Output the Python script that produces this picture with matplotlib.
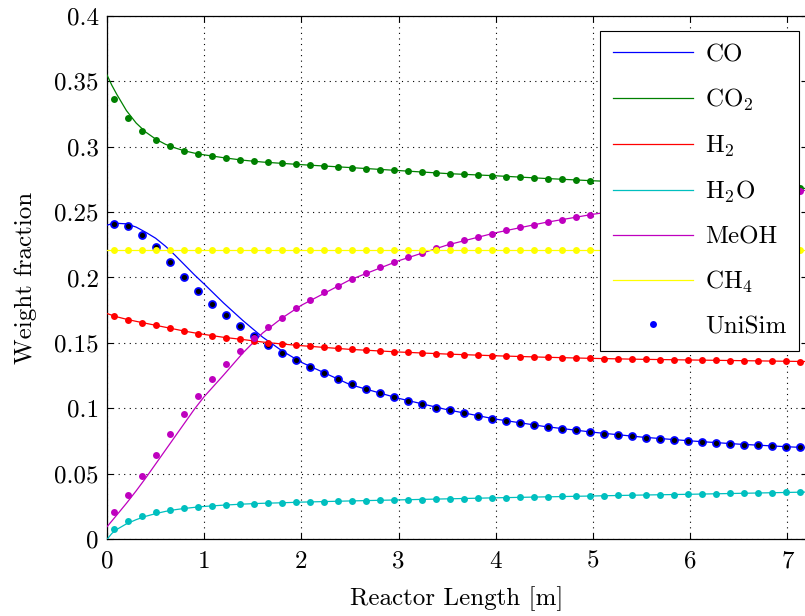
import numpy as np
import matplotlib
matplotlib.use('Agg')
import matplotlib.pyplot as plt
from matplotlib.lines import Line2D
from matplotlib.ticker import FuncFormatter

# ---------------------------------------------------------------------------
# Data: model profiles (lines) and UniSim reference points (dots)
# ---------------------------------------------------------------------------
x_model = [0, 0.05, 0.1, 0.2, 0.3, 0.4, 0.5, 0.6, 0.7, 0.8, 0.9, 1.0, 1.2, 1.4,
           1.6, 1.8, 2.0, 2.5, 3.0, 3.5, 4.0, 4.5, 5.0, 5.5, 6.0, 6.5, 7.0, 7.2]

co_model = [0.2400, 0.2410, 0.2414, 0.2410, 0.2385, 0.2345, 0.2300, 0.2240, 0.2170,
            0.2095, 0.2020, 0.1950, 0.1805, 0.1670, 0.1545, 0.1440, 0.1352, 0.1182,
            0.1077, 0.0990, 0.0918, 0.0862, 0.0818, 0.0781, 0.0752, 0.0727, 0.0707, 0.0700]
co2_model = [0.3547, 0.3468, 0.3400, 0.3275, 0.3180, 0.3110, 0.3058, 0.3018, 0.2990,
             0.2967, 0.2950, 0.2937, 0.2915, 0.2896, 0.2882, 0.2872, 0.2862, 0.2840,
             0.2817, 0.2794, 0.2777, 0.2757, 0.2739, 0.2724, 0.2710, 0.2697, 0.2685, 0.2680]
h2_model = [0.1725, 0.1712, 0.1700, 0.1681, 0.1665, 0.1650, 0.1635, 0.1620, 0.1605,
            0.1590, 0.1577, 0.1565, 0.1543, 0.1526, 0.1507, 0.1492, 0.1479, 0.1451,
            0.1431, 0.1415, 0.1402, 0.1391, 0.1382, 0.1375, 0.1370, 0.1365, 0.1360, 0.1358]
h2o_model = [0.0000, 0.0045, 0.0075, 0.0118, 0.0150, 0.0176, 0.0196, 0.0213, 0.0226,
             0.0236, 0.0244, 0.0251, 0.0261, 0.0269, 0.0275, 0.0279, 0.0284, 0.0293,
             0.0301, 0.0309, 0.0317, 0.0324, 0.0331, 0.0338, 0.0344, 0.0351, 0.0358, 0.0361]
meoh_model = [0.0096, 0.0140, 0.0185, 0.0275, 0.0370, 0.0470, 0.0575, 0.0680, 0.0785,
              0.0890, 0.0995, 0.1090, 0.1255, 0.1425, 0.1575, 0.1690, 0.1788, 0.1982,
              0.2128, 0.2248, 0.2342, 0.2419, 0.2483, 0.2537, 0.2584, 0.2626, 0.2656, 0.2666]
ch4_model = [0.2208] * len(x_model)

x_unisim = [0.072, 0.216, 0.36, 0.504, 0.648, 0.792, 0.936, 1.08, 1.224, 1.368,
            1.512, 1.656, 1.8, 1.944, 2.088, 2.232, 2.376, 2.52, 2.664, 2.808,
            2.952, 3.096, 3.24, 3.384, 3.528, 3.672, 3.816, 3.96, 4.104, 4.248,
            4.392, 4.536, 4.68, 4.824, 4.968, 5.112, 5.256, 5.4, 5.544, 5.688,
            5.832, 5.976, 6.12, 6.264, 6.408, 6.552, 6.696, 6.84, 6.984, 7.128]

co_unisim = [0.2411, 0.2391, 0.2325, 0.2233, 0.2116, 0.2006, 0.1899, 0.1800, 0.1711, 0.1629,
             0.1553, 0.1482, 0.1426, 0.1370, 0.1316, 0.1270, 0.1226, 0.1186, 0.1151, 0.1118,
             0.1087, 0.1056, 0.1031, 0.1005, 0.0985, 0.0962, 0.0942, 0.0921, 0.0906, 0.0888,
             0.0873, 0.0858, 0.0845, 0.0833, 0.0820, 0.0807, 0.0797, 0.0787, 0.0776, 0.0769,
             0.0761, 0.0753, 0.0743, 0.0738, 0.0730, 0.0723, 0.0718, 0.0713, 0.0707, 0.0703]
co2_unisim = [0.3364, 0.3220, 0.3119, 0.3050, 0.3004, 0.2969, 0.2946, 0.2928, 0.2913, 0.2898,
              0.2889, 0.2880, 0.2873, 0.2865, 0.2859, 0.2852, 0.2847, 0.2839, 0.2831, 0.2824,
              0.2819, 0.2811, 0.2806, 0.2801, 0.2793, 0.2788, 0.2783, 0.2778, 0.2770, 0.2765,
              0.2760, 0.2755, 0.2750, 0.2745, 0.2740, 0.2736, 0.2732, 0.2728, 0.2724, 0.2720,
              0.2716, 0.2712, 0.2708, 0.2704, 0.2700, 0.2696, 0.2692, 0.2689, 0.2685, 0.2682]
h2_unisim = [0.1704, 0.1678, 0.1655, 0.1635, 0.1612, 0.1591, 0.1571, 0.1555, 0.1540, 0.1528,
             0.1515, 0.1502, 0.1492, 0.1482, 0.1474, 0.1466, 0.1459, 0.1451, 0.1444, 0.1439,
             0.1433, 0.1428, 0.1423, 0.1418, 0.1415, 0.1410, 0.1408, 0.1403, 0.1400, 0.1395,
             0.1393, 0.1390, 0.1387, 0.1385, 0.1382, 0.1380, 0.1380, 0.1377, 0.1375, 0.1372,
             0.1372, 0.1370, 0.1370, 0.1367, 0.1365, 0.1365, 0.1362, 0.1362, 0.1360, 0.1358]
h2o_unisim = [0.0079, 0.0137, 0.0178, 0.0206, 0.0226, 0.0239, 0.0249, 0.0257, 0.0264, 0.0270,
              0.0272, 0.0275, 0.0277, 0.0283, 0.0285, 0.0287, 0.0290, 0.0293, 0.0295, 0.0297,
              0.0300, 0.0302, 0.0304, 0.0307, 0.0309, 0.0311, 0.0313, 0.0316, 0.0319, 0.0321,
              0.0323, 0.0325, 0.0327, 0.0329, 0.0331, 0.0333, 0.0335, 0.0337, 0.0339, 0.0340,
              0.0342, 0.0344, 0.0346, 0.0348, 0.0350, 0.0352, 0.0354, 0.0356, 0.0358, 0.0360]
meoh_unisim = [0.0209, 0.0336, 0.0484, 0.0642, 0.0802, 0.0957, 0.1097, 0.1227, 0.1342, 0.1441,
               0.1540, 0.1619, 0.1693, 0.1764, 0.1826, 0.1886, 0.1937, 0.1989, 0.2034, 0.2078,
               0.2116, 0.2154, 0.2189, 0.2223, 0.2254, 0.2284, 0.2309, 0.2335, 0.2361, 0.2384,
               0.2404, 0.2424, 0.2442, 0.2462, 0.2480, 0.2497, 0.2514, 0.2530, 0.2545, 0.2559,
               0.2572, 0.2585, 0.2597, 0.2608, 0.2619, 0.2629, 0.2639, 0.2647, 0.2655, 0.2663]
ch4_unisim = [0.2208] * len(x_unisim)

species = ['CO', r'CO$_2$', r'H$_2$', r'H$_2$O', 'MeOH', r'CH$_4$']
colors = ['#0000ff', '#008000', '#ff0000', '#00bfbf', '#bf00bf', '#ffff00']
models = [co_model, co2_model, h2_model, h2o_model, meoh_model, ch4_model]
unisim = [co_unisim, co2_unisim, h2_unisim, h2o_unisim, meoh_unisim, ch4_unisim]

# ---------------------------------------------------------------------------
# Style (LaTeX-like Computer Modern look)
# ---------------------------------------------------------------------------
plt.rcParams['font.family'] = 'cmr10'
plt.rcParams['mathtext.fontset'] = 'cm'
plt.rcParams['axes.unicode_minus'] = False
plt.rcParams['axes.formatter.use_mathtext'] = True
fs = 18

fig = plt.figure(figsize=(8.05, 6.16), dpi=100)
ax = fig.add_axes([107 / 805, 76.7 / 616, 699.8 / 805, 523.6 / 616])

# model lines
handles = []
for name, col, yv in zip(species, colors, models):
    ln, = ax.plot(x_model, yv, color=col, linewidth=0.9, label=name, zorder=3)
    handles.append(ln)

# UniSim points
for i, (col, yv) in enumerate(zip(colors, unisim)):
    if i == 0:
        ax.plot(x_unisim, yv, linestyle='none', marker='o', markersize=5,
                markerfacecolor='k', markeredgecolor=col, markeredgewidth=1.3, zorder=4)
    else:
        ax.plot(x_unisim, yv, linestyle='none', marker='o', markersize=5,
                markerfacecolor=col, markeredgecolor=col, markeredgewidth=0, zorder=4)

handles.append(Line2D([], [], linestyle='none', marker='o', markersize=5,
                      markerfacecolor='#0000ff', markeredgewidth=0, label='UniSim'))

ax.set_xlim(0, 7.2)
ax.set_ylim(0, 0.4)
ax.set_xticks(range(0, 8))
ax.set_yticks(np.arange(0, 0.401, 0.05))
ax.yaxis.set_major_formatter(FuncFormatter(lambda v, p: '%g' % round(v, 3)))
ax.xaxis.set_major_formatter(FuncFormatter(lambda v, p: '%g' % v))

ax.grid(True, color='k', linestyle=(0, (1, 4)), linewidth=0.8)
ax.tick_params(direction='in', length=4, width=0.8, top=True, right=True,
               labelsize=fs)
ax.tick_params(axis='x', pad=8)
ax.tick_params(axis='y', pad=6)
for sp in ax.spines.values():
    sp.set_linewidth(0.9)

ax.set_xlabel('Reactor Length [m]', fontsize=fs, labelpad=10)
ax.set_ylabel('Weight fraction', fontsize=fs, labelpad=12)

leg = ax.legend(handles=handles, loc='upper right', fontsize=fs,
                bbox_to_anchor=(799 / 805, 1 - 31 / 616),
                bbox_transform=fig.transFigure, borderaxespad=0,
                fancybox=False, framealpha=1, edgecolor='k',
                handlelength=3.2, handletextpad=0.5, labelspacing=0.82,
                borderpad=0.5)
leg.get_frame().set_linewidth(0.8)
leg.set_zorder(10)

fig.savefig('out.png', dpi=100)
